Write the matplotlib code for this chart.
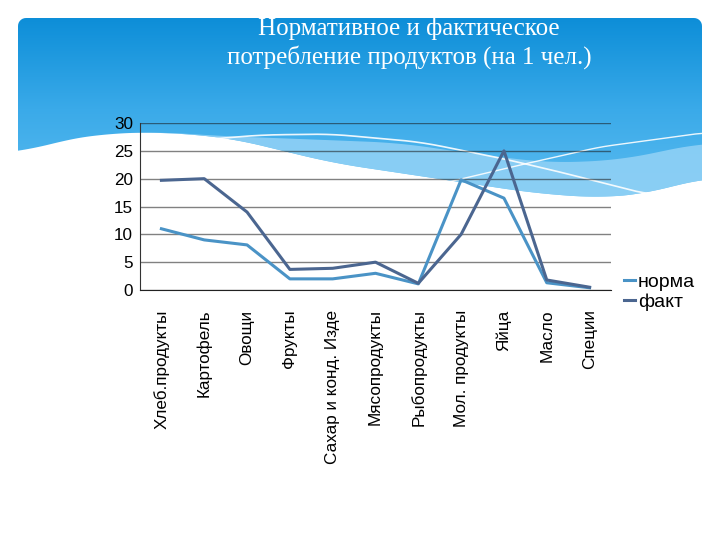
import numpy as np
import matplotlib
matplotlib.use("Agg")
import matplotlib.pyplot as plt
from matplotlib.patches import Polygon
from matplotlib.colors import LinearSegmentedColormap

categories = ["Хлеб.продукты", "Картофель", "Овощи", "Фрукты",
              "Сахар и конд. Изде", "Мясопродукты", "Рыбопродукты",
              "Мол. продукты", "Яйца", "Масло", "Специи"]
norma = [11, 9, 8.1, 2, 2, 3, 1.1, 19.8, 16.5, 1.3, 0.4]
fakt = [19.7, 20, 14, 3.7, 3.9, 5, 1.2, 10, 25, 1.8, 0.5]
yticks = [0, 5, 10, 15, 20, 25, 30]

title = "Нормативное и фактическое\nпотребление продуктов (на 1 чел.)"

fig = plt.figure(figsize=(7.2, 5.4), dpi=100)
fig.patch.set_facecolor("white")

# --- decorative slide background (pixel coordinates) ---
bg = fig.add_axes([0, 0, 1, 1], zorder=-1)
bg.set_xlim(0, 720)
bg.set_ylim(540, 0)
bg.axis("off")


def smooth(pts, n=200):
    pts = np.array(pts, dtype=float)
    xs = np.linspace(pts[0, 0], pts[-1, 0], n)
    ys = np.interp(xs, pts[:, 0], pts[:, 1])
    k = 9
    ys = np.convolve(np.pad(ys, k, mode="edge"), np.ones(2 * k + 1) / (2 * k + 1), mode="valid")
    return np.column_stack([xs, ys])


white_edge = smooth([(18, 153), (60, 141), (100, 134), (160, 132), (230, 138),
                     (333, 163), (433, 178), (533, 193), (600, 198), (650, 193), (702, 178)])
dark_edge = smooth([(18, 153), (60, 141), (100, 134), (160, 132), (220, 136),
                    (300, 139), (400, 143), (467, 153), (550, 163), (620, 160), (702, 143)])

r = 8
corner_tr = [(702 - r + r * np.cos(t), 18 + r - r * np.sin(t)) for t in np.linspace(np.pi / 2, 0, 8)]
corner_tl = [(18 + r + r * np.cos(t), 18 + r - r * np.sin(t)) for t in np.linspace(np.pi, np.pi / 2, 8)]
outline = corner_tl + corner_tr + [tuple(p) for p in white_edge[::-1]]
clip_poly = Polygon(outline, closed=True, transform=bg.transData, facecolor="none", edgecolor="none")
bg.add_patch(clip_poly)

cmap = LinearSegmentedColormap.from_list("slide", ["#0d8ed8", "#3aaae9", "#5cbcf0"])
grad = np.linspace(0, 1, 256).reshape(-1, 1)
im = bg.imshow(grad, cmap=cmap, extent=(18, 702, 200, 18), aspect="auto", zorder=0)
im.set_clip_path(clip_poly)

band = np.vstack([dark_edge, white_edge[::-1]])
bg.add_patch(Polygon(band, closed=True, facecolor="#93d2f6", edgecolor="none", alpha=0.85, zorder=1))

# thin white swoosh lines
l1 = smooth([(200, 140), (260, 135), (330, 134), (420, 142), (500, 158), (560, 172), (650, 195)], 200)
l2 = smooth([(440, 184), (520, 165), (600, 147), (702, 133)], 200)
bg.plot(l1[:, 0], l1[:, 1], color="white", lw=1.2, alpha=0.9, zorder=2)
bg.plot(l2[:, 0], l2[:, 1], color="white", lw=1.0, alpha=0.9, zorder=2)

fig.text(409 / 720, 1 - 43 / 540, title, ha="center", va="center", color="white",
         fontsize=18, family="Liberation Serif", linespacing=1.25)

# --- chart ---
ax = fig.add_axes([140 / 720, 1 - 290 / 540, 471 / 720, 167 / 540])
ax.patch.set_alpha(0)
x = np.arange(len(categories))
ax.plot(x, norma, color="#4a93c6", lw=2.2, label="норма")
ax.plot(x, fakt, color="#4b6690", lw=2.2, label="факт")

ax.set_xlim(-0.5, len(categories) - 0.5)
ax.set_ylim(0, 30)
ax.set_yticks(yticks)
ax.set_xticks(x)
ax.set_xticklabels(categories, rotation=90, family="Liberation Sans", fontsize=12.3)
for lbl in ax.get_yticklabels():
    lbl.set_family("Liberation Sans")
    lbl.set_fontsize(12.3)
ax.tick_params(axis="x", length=0, pad=14)
ax.tick_params(axis="y", length=0, pad=5)
ax.grid(axis="y", color="#1a1a1a", alpha=0.55, lw=1)
ax.set_axisbelow(True)
for s in ["top", "right"]:
    ax.spines[s].set_visible(False)
ax.spines["left"].set_color("#333333")
ax.spines["bottom"].set_color("#222222")

leg = fig.legend(loc="upper left", bbox_to_anchor=(606 / 720, 1 - 256 / 540), frameon=False,
                 handlelength=0.6, handletextpad=0.15, labelspacing=0.1,
                 prop={"family": "Liberation Sans", "size": 14})

fig.savefig("out.png", dpi=100)
